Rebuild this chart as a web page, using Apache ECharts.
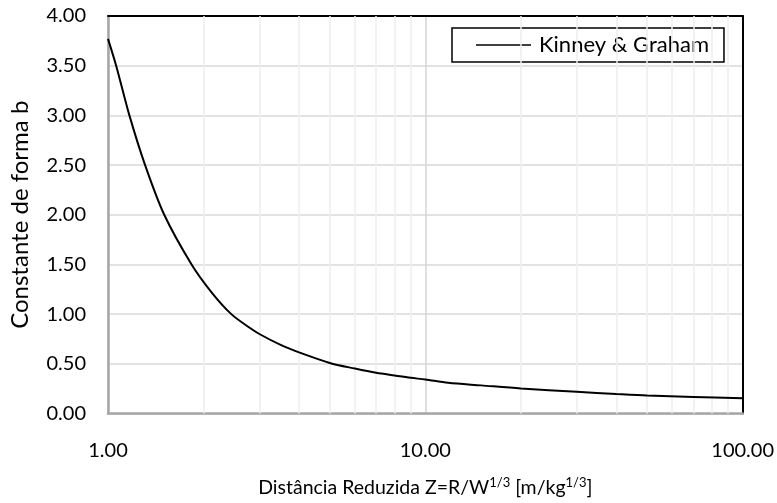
<!DOCTYPE html>
<html>
<head>
<meta charset="utf-8">
<script src="https://cdn.jsdelivr.net/npm/echarts@6/dist/echarts.min.js"></script>
<style>html,body{margin:0;padding:0;background:#fff}#c{width:777px;height:503px}</style>
</head>
<body>
<div id="c"></div>
<script>
const seriesName = 'Kinney & Graham';
const zValues = [1, 1.061, 1.168, 1.309, 1.504, 1.834, 2.12, 2.447, 2.78, 3, 3.5, 4, 5, 6, 7, 8, 9, 10, 11.8, 15, 20, 30, 40, 50, 70, 100];
const bValues = [3.77, 3.5, 3.0, 2.5, 2.0, 1.5, 1.22, 1.0, 0.868, 0.80, 0.69, 0.615, 0.509, 0.452, 0.409, 0.382, 0.359, 0.342, 0.309, 0.283, 0.252, 0.219, 0.196, 0.18, 0.166, 0.153];
const minorGridX = [2, 3, 4, 5, 6, 7, 8, 9, 20, 30, 40, 50, 60, 70, 80, 90];
const yTicks = { min: 0, max: 4, interval: 0.5 };
const xRange = { min: 1, max: 100 };

const FONT = 'Lato';
const chart = echarts.init(document.getElementById('c'));
chart.setOption({
  animation: false,
  textStyle: { fontFamily: FONT },
  color: ['#000', '#000'],
  grid: { left: 108, right: 32, top: 16, bottom: 86 },
  legend: {
    data: [seriesName],
    left: 452, top: 28,
    borderColor: '#000', borderWidth: 1.5,
    padding: [6, 15, 6, 24],
    icon: 'rect', itemWidth: 55, itemHeight: 1.5,
    itemStyle: { color: '#000' },
    textStyle: { fontFamily: FONT, fontSize: 22, color: '#000', padding: [0, 0, 0, 3] }
  },
  xAxis: [{
    type: 'log', logBase: 10, min: xRange.min, max: xRange.max,
    axisLine: { onZero: false, lineStyle: { color: '#a6a6a6', width: 2.5 } },
    axisTick: { show: false },
    axisLabel: { margin: 27, fontSize: 20, color: '#000', formatter: v => v.toFixed(2) },
    splitLine: { show: true, lineStyle: { color: '#d4d4d4', width: 1.5 } },
    name: 'Distância Reduzida Z=R/W{sup|1/3} [m/kg{sup|1/3}]',
    nameLocation: 'middle', nameGap: 63,
    nameTextStyle: { fontSize: 19.5, color: '#000', rich: { sup: { fontSize: 13, padding: [0, 0, 10, 0], color: '#000' } } }
  }, {
    type: 'log', logBase: 10, min: xRange.min, max: xRange.max, position: 'top',
    axisLine: { onZero: false, lineStyle: { color: '#000', width: 2 } },
    axisTick: { show: false }, axisLabel: { show: false }, splitLine: { show: false }
  }],
  yAxis: [{
    type: 'value', min: yTicks.min, max: yTicks.max, interval: yTicks.interval,
    axisLine: { show: true, onZero: false, lineStyle: { color: '#a6a6a6', width: 2.5 } },
    axisTick: { show: false },
    axisLabel: { margin: 22, fontSize: 20, color: '#000', formatter: v => v.toFixed(2) },
    splitLine: { show: true, lineStyle: { color: '#d9d9d9', width: 1.5 } },
    name: 'Constante de forma b', nameLocation: 'middle', nameGap: 76,
    nameTextStyle: { fontSize: 24, color: '#000' }
  }, {
    type: 'value', min: yTicks.min, max: yTicks.max, interval: yTicks.interval, position: 'right',
    axisLine: { show: true, onZero: false, lineStyle: { color: '#000', width: 2 } },
    axisTick: { show: false }, axisLabel: { show: false }, splitLine: { show: false }
  }],
  series: [{
    name: 'minor', type: 'line', data: [], z: 1, silent: true,
    markLine: {
      silent: true, symbol: 'none', label: { show: false },
      lineStyle: { color: '#eeeeee', width: 1.5, type: 'solid' },
      data: minorGridX.map(v => ({ xAxis: v }))
    }
  }, {
    name: seriesName, type: 'line', z: 5,
    data: zValues.map((z, i) => [z, bValues[i]]),
    showSymbol: false, symbol: 'none', smooth: 0.3,
    itemStyle: { color: '#000' },
    lineStyle: { color: '#000', width: 2 }
  }]
});
</script>
</body>
</html>
